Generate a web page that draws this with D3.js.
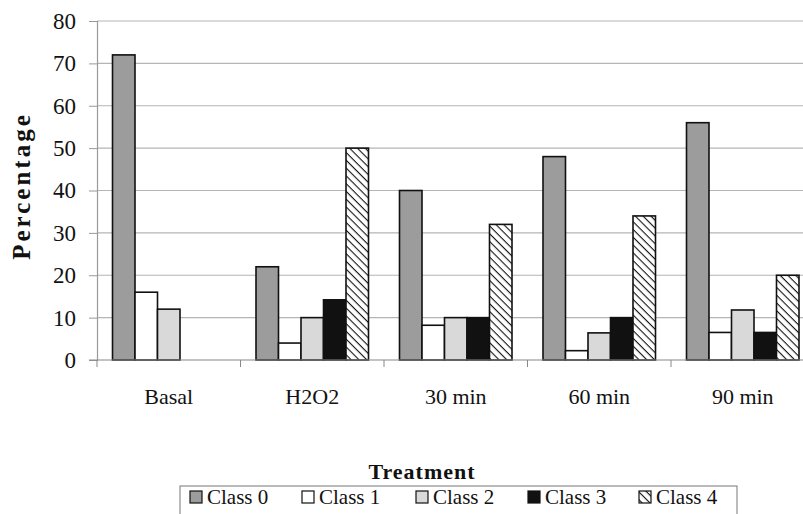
<!DOCTYPE html>
<html><head><meta charset="utf-8">
<script src="https://cdn.jsdelivr.net/npm/d3@7"></script>
<style>body{margin:0;background:#fff}svg{display:block}</style>
</head><body><svg id="c" width="803" height="514"></svg>
<script>
const categories = ["Basal", "H2O2", "30 min", "60 min", "90 min"];
const seriesNames = ["Class 0", "Class 1", "Class 2", "Class 3", "Class 4"];
const class0 = [72, 22, 40, 48, 56];
const class1 = [16, 4, 8.2, 2.2, 6.5];
const class2 = [12, 10, 10, 6.4, 11.8];
const class3 = [0, 14.2, 10, 10, 6.5];
const class4 = [0, 50, 32, 34, 20];
const yTicks = [0, 10, 20, 30, 40, 50, 60, 70, 80];
const seriesValues = [class0, class1, class2, class3, class4];
const fills = ["#9c9c9c", "#ffffff", "#d9d9d9", "#111111", "url(#hatch)"];

(function(){
const svg = d3.select("#c");
const serif = "'Liberation Serif','Times New Roman',serif";
const defs = svg.append("defs");
const pat = defs.append("pattern").attr("id","hatch").attr("patternUnits","userSpaceOnUse")
  .attr("width",5.5).attr("height",5.5).attr("patternTransform","rotate(45)");
pat.append("rect").attr("width",5.5).attr("height",5.5).attr("fill","#fff");
pat.append("line").attr("x1",0).attr("y1",0).attr("x2",5.5).attr("y2",0)
  .attr("stroke","#111").attr("stroke-width",2.2);

const mLeft = 97, mTop = 21, mBottom = 360, catW = 143.5;
const x = d3.scaleBand().domain(categories).range([mLeft, mLeft + catW*categories.length]).padding(0);
const xi = d3.scaleBand().domain(seriesNames).range([15.5, 128]).padding(0);
const y = d3.scaleLinear().domain([0, 80]).range([mBottom, mTop]);

svg.append("g").selectAll("line").data(yTicks.filter(d=>d>0)).join("line")
  .attr("x1", mLeft).attr("x2", 803).attr("y1", d=>y(d)).attr("y2", d=>y(d))
  .attr("stroke", "#b5b5b5").attr("stroke-width", 1.2);

const ya = svg.append("g").attr("transform", `translate(${mLeft},0)`)
  .call(d3.axisLeft(y).tickValues(yTicks).tickSize(8).tickPadding(13));
ya.select(".domain").attr("stroke","#999").attr("stroke-width",1.2);
ya.selectAll(".tick line").attr("stroke","#999");
ya.selectAll("text").attr("font-family", serif).attr("font-size", 23).attr("fill","#111");

const g = svg.append("g");
categories.forEach((c, ci) => {
  seriesNames.forEach((s, si) => {
    const v = seriesValues[si][ci];
    g.append("rect")
      .attr("x", x(c) + xi(s)).attr("width", xi.bandwidth())
      .attr("y", y(v)).attr("height", y(0) - y(v))
      .attr("fill", fills[si]).attr("stroke", "#111").attr("stroke-width", 1.6);
  });
});

const xa = svg.append("g").attr("transform", `translate(0,${mBottom})`)
  .call(d3.axisBottom(x).tickSize(0).tickPadding(28));
xa.select(".domain").attr("stroke","#888").attr("stroke-width",1.2).attr("d", `M${mLeft-8},0H803`);
xa.selectAll("text").attr("font-family", serif).attr("font-size", 22).attr("fill","#111");
svg.append("g").selectAll("line").data(categories.map((c,i)=>i)).join("line")
  .attr("x1", i=>x(categories[i])).attr("x2", i=>x(categories[i]))
  .attr("y1", mBottom).attr("y2", mBottom+7).attr("stroke","#888");

svg.append("text").attr("transform","translate(30,186) rotate(-90)")
  .attr("text-anchor","middle").attr("font-family", serif).attr("font-size", 25)
  .attr("font-weight","bold").attr("letter-spacing", 3).attr("fill","#111").text("Percentage");
svg.append("text").attr("x", 422).attr("y", 479).attr("text-anchor","middle")
  .attr("font-family", serif).attr("font-size", 22).attr("font-weight","bold")
  .attr("letter-spacing", 1).attr("fill","#111").text("Treatment");

const lg = svg.append("g");
lg.append("rect").attr("x",180).attr("y",486).attr("width",557).attr("height",40)
  .attr("fill","#fff").attr("stroke","#777").attr("stroke-width",1);
const itemX = [190, 302, 416, 528, 639];
seriesNames.forEach((s, i) => {
  lg.append("rect").attr("x", itemX[i]).attr("y", 491).attr("width", 12).attr("height", 12)
    .attr("fill", fills[i]).attr("stroke", "#111").attr("stroke-width", 1.2);
  lg.append("text").attr("x", itemX[i] + 17).attr("y", 504)
    .attr("font-family", serif).attr("font-size", 21).attr("fill","#111").text(s);
});
})();
</script></body></html>
